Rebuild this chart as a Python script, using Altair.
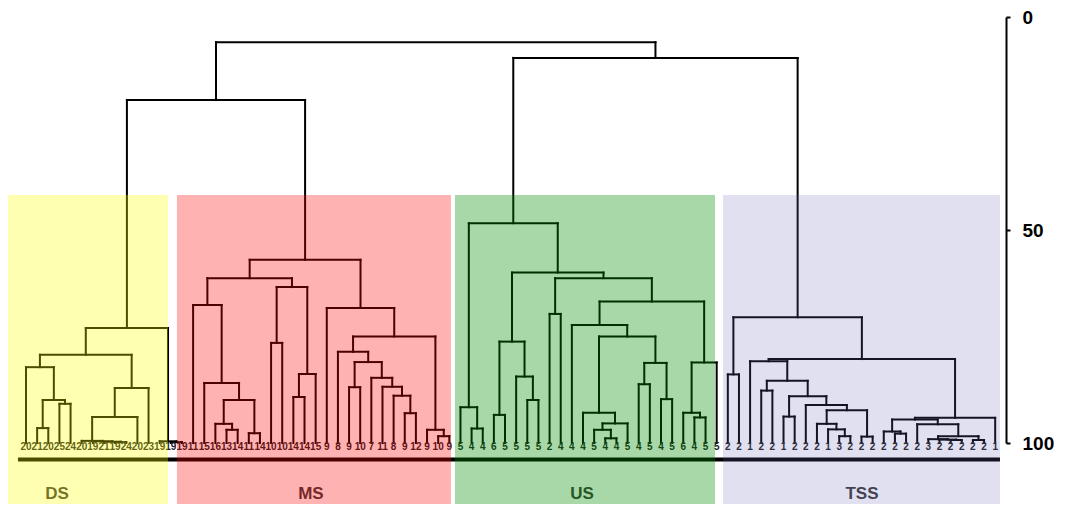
import altair as alt
import pandas as pd

# ---------------- data ----------------
LEAF_LABELS = (
    ["20", "21", "20", "25", "24", "20", "19", "21", "19", "24", "20", "23", "19", "19", "19"]
    + ["11", "15", "16", "13", "14", "11", "14", "10", "10", "14", "14", "15", "9", "8",
       "9", "10", "7", "11", "8", "9", "12", "9", "10", "9"]
    + ["5", "4", "4", "6", "5", "5", "5", "5", "2", "4", "4", "4", "5", "4", "4", "5",
       "4", "5", "4", "5", "6", "4", "5", "5"]
    + ["2", "2", "1", "2", "2", "1", "2", "2", "2", "1", "3", "2", "2", "2", "2", "2",
       "2", "2", "3", "2", "2", "2", "2", "2", "1"]
)

# cluster trees: (similarity, left, right); ints are leaf indices
DS_TREE = (73.0,
           (79.3,
            (82.2, 0, (89.9, (96.5, 1, 2), (90.8, 3, 4))),
            (87.1, (93.9, (99.5, 5, (99.6, 6, (99.7, 7, (99.8, 8, 9)))), 10), 11)),
           (99.6, 12, (99.8, 13, 14)))

MS_TREE = (57.0,
           (61.3,
            (67.6, 15, (85.9, 16, (89.9, (95.5, 17, (96.9, 18, 19)), (97.7, 20, 21)))),
            (63.4, (76.5, 22, 23), (83.8, (89.2, 24, 25), 26))),
           (68.3, 27,
            (75.0,
             (78.6, 28, (81.0, (86.9, 29, 30),
                         (84.7, 31, (86.8, 32, (88.9, 33, (93.0, 34, 35)))))),
             (96.9, 36, (98.4, 37, 38)))))

US_TREE = (48.4,
           (91.6, 39, (96.6, 40, 41)),
           (60.0,
            (76.2, (93.4, 42, 43), (84.4, 44, (89.9, 45, 46))),
            (61.3,
             (69.7, 47, 48),
             (66.8,
              (72.3, 49, (75.0,
                          (92.9, 50, (95.4, (96.9, 51, (98.9, 52, 53)), 54)),
                          (81.2, (86.2, 55, 56), (89.7, 57, 58)))),
              (81.1, (92.9, 59, (94.0, 60, 61)), 62)))))

TSS_TREE = (70.5,
            (83.9, 63, 64),
            (80.3,
             (80.8, 65, (85.4, (87.7, 66, 67),
                         (89.0, (93.8, 68, 69),
                          (91.1, 70, (92.3, (95.5, 71, (96.8, 72, (98.4, 73, 74))),
                                      (98.5, 75, 76)))))),
             (94.1, (94.5, (97.3, 77, (97.8, 78, 79)),
                     (95.6, 80, (98.4, (99.1, 81, (99.2, 82, (99.3, 83, 84))),
                                 (99.3, 85, 86)))),
              87)))

TOP_SIM = 5.9
DS_MS_SIM = 19.5
US_TSS_SIM = 9.6

REGIONS = ["DS", "MS", "US", "TSS"]
AXIS_TICKS = [0, 50, 100]

# ---------------- layout / style ----------------
LEAF_X0 = 26.0      # page px of first leaf
LEAF_STEP = 11.14   # px between leaves
REGION_SPAN = [(-1.62, 12.75), (13.55, 38.15), (38.51, 61.85), (62.57, 87.43)]
REGION_LABEL_X = [2.78, 25.58, 49.91, 75.04]
REGION_FILL = ["#FFFF00", "#FF0000", "#008C00", "#6464B4"]
REGION_ALPHA = [0.30, 0.30, 0.34, 0.20]
BAND_TOP, BAND_BOTTOM = 41.8, 118.0
LABEL_Y, BASELINE_Y, REGION_LABEL_Y = 101.05, 103.9, 112.0

PLOT_W, PLOT_H = 998, 426
dmin = (8 - LEAF_X0) / LEAF_STEP
dmax = dmin + PLOT_W / LEAF_STEP

TREE = (TOP_SIM, (DS_MS_SIM, DS_TREE, MS_TREE), (US_TSS_SIM, US_TREE, TSS_TREE))

segs = []


def walk(node):
    if isinstance(node, int):
        return float(node), 100.0
    h, l, r = node
    xl, hl = walk(l)
    xr, hr = walk(r)
    segs.append(dict(x=xl, x2=xr, y=h, y2=h))
    segs.append(dict(x=xl, x2=xl, y=h, y2=hl))
    segs.append(dict(x=xr, x2=xr, y=h, y2=hr))
    return (xl + xr) / 2, h


walk(TREE)
seg_df = pd.DataFrame(segs)

leaf_df = pd.DataFrame({"leaf": list(range(len(LEAF_LABELS))), "label": LEAF_LABELS,
                        "y": LABEL_Y})
reg_df = pd.DataFrame({
    "region": REGIONS,
    "x": [s[0] for s in REGION_SPAN], "x2": [s[1] for s in REGION_SPAN],
    "y": BAND_TOP, "y2": BAND_BOTTOM,
    "fill": REGION_FILL, "alpha": REGION_ALPHA,
    "lx": REGION_LABEL_X, "ly": REGION_LABEL_Y,
})
base_df = pd.DataFrame({"x": [-0.72], "x2": [REGION_SPAN[-1][1]], "y": [BASELINE_Y]})

xsc = alt.Scale(domain=[dmin, dmax], nice=False, zero=False)
ysc = alt.Scale(domain=[0, 100], reverse=True, nice=False, zero=False)
yax = alt.Axis(orient="right", values=AXIS_TICKS, title=None, grid=False,
               domainColor="black", domainWidth=2, tickColor="black", tickWidth=2,
               tickSize=4, labelPadding=12, labelFont="Liberation Sans",
               labelFontSize=19, labelFontWeight="bold", labelColor="black")

lines = alt.Chart(seg_df).mark_rule(color="black", strokeWidth=2, strokeCap="square").encode(
    x=alt.X("x:Q", scale=xsc, axis=None), x2="x2:Q",
    y=alt.Y("y:Q", scale=ysc, axis=yax), y2="y2:Q")

baseline = alt.Chart(base_df).mark_rule(color="black", strokeWidth=4).encode(
    x=alt.X("x:Q", scale=xsc, axis=None), x2="x2:Q",
    y=alt.Y("y:Q", scale=ysc, axis=yax))

labels = alt.Chart(leaf_df).mark_text(fontSize=10, font="Liberation Sans", fontWeight="bold",
                                      color="#222222", baseline="middle", align="center").encode(
    x=alt.X("leaf:Q", scale=xsc, axis=None),
    y=alt.Y("y:Q", scale=ysc, axis=yax), text="label:N")

bands = alt.Chart(reg_df).mark_rect().encode(
    x=alt.X("x:Q", scale=xsc, axis=None), x2="x2:Q",
    y=alt.Y("y:Q", scale=ysc, axis=yax), y2="y2:Q",
    color=alt.Color("fill:N", scale=None), opacity=alt.Opacity("alpha:Q", scale=None))

reg_labels = alt.Chart(reg_df).mark_text(fontSize=17, fontWeight="bold", font="Liberation Sans",
                                         color="#3a3a3a", baseline="middle").encode(
    x=alt.X("lx:Q", scale=xsc, axis=None),
    y=alt.Y("ly:Q", scale=ysc, axis=yax), text="region:N")

chart = alt.layer(lines, baseline, labels, reg_labels, bands).properties(
    width=PLOT_W, height=PLOT_H,
    autosize=alt.AutoSizeParams(type="none"),
    padding={"left": 0, "top": 9, "right": 51, "bottom": 61},
).configure(background="white").configure_view(stroke=None, strokeWidth=0)

chart.save("out.html", embed_options={"renderer": "svg", "actions": False})
